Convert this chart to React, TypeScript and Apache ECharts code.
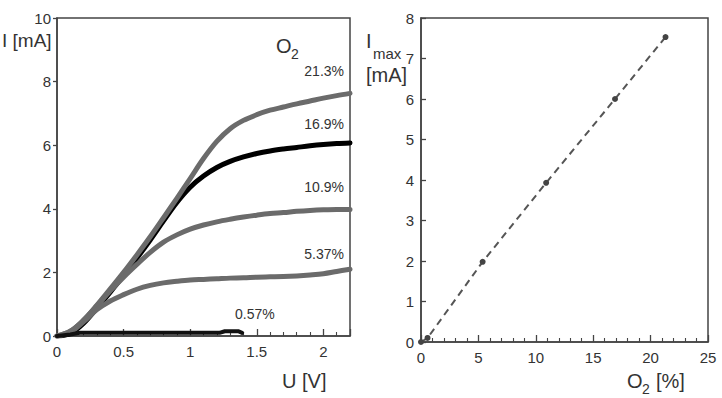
import React, { useEffect, useRef } from "react";
import * as echarts from "echarts";

// Left panel: I–U curves for different O2 concentrations
const voltage = [0, 0.1, 0.2, 0.3, 0.4, 0.5, 0.6, 0.7, 0.8, 0.9, 1.0, 1.1, 1.2, 1.3, 1.4, 1.5, 1.6, 1.7, 1.8, 1.9, 2.0, 2.1, 2.2];
const current213 = [0, 0.15, 0.5, 0.97, 1.48, 2.0, 2.55, 3.12, 3.72, 4.33, 4.95, 5.58, 6.12, 6.52, 6.78, 6.96, 7.1, 7.2, 7.3, 7.39, 7.48, 7.56, 7.63];
const current169 = [0, 0.08, 0.4, 0.88, 1.38, 1.9, 2.45, 3.02, 3.62, 4.2, 4.68, 5.03, 5.3, 5.49, 5.63, 5.74, 5.82, 5.88, 5.93, 5.98, 6.02, 6.05, 6.07];
const current109 = [0, 0.15, 0.5, 0.95, 1.42, 1.85, 2.25, 2.63, 2.95, 3.18, 3.36, 3.49, 3.59, 3.67, 3.74, 3.8, 3.85, 3.88, 3.92, 3.95, 3.97, 3.98, 3.98];
const current537 = [0, 0.12, 0.45, 0.83, 1.1, 1.3, 1.47, 1.59, 1.67, 1.72, 1.76, 1.78, 1.8, 1.82, 1.83, 1.85, 1.86, 1.87, 1.89, 1.92, 1.96, 2.03, 2.1];
const voltage057 = [0, 0.1, 0.17, 0.4, 0.7, 1.0, 1.22, 1.26, 1.36, 1.39];
const current057 = [0, 0.05, 0.1, 0.1, 0.1, 0.1, 0.1, 0.15, 0.15, 0.1];

// Right panel: Imax vs O2 concentration
const o2Percent = [0, 0.57, 5.37, 10.9, 16.9, 21.3];
const iMax = [0, 0.1, 1.98, 3.93, 6.0, 7.53];

// Curve labels
const curveLabels = ["21.3%", "16.9%", "10.9%", "5.37%", "0.57%"];

const pair = (xs: number[], ys: number[]) => xs.map((x, i) => [x, ys[i]]);

const FONT = "'Liberation Sans', Arial, sans-serif";
const AXIS_COLOR = "#444";
const LABEL_COLOR = "#333";

function axisBase(extra: any) {
  return {
    type: "value",
    axisLine: { show: true, onZero: false, lineStyle: { color: AXIS_COLOR, width: 1.5 } },
    splitLine: { show: false },
    axisLabel: { fontSize: 15, color: LABEL_COLOR, fontFamily: FONT },
    ...extra,
  };
}

export default function App() {
  const ref = useRef<HTMLDivElement>(null);

  useEffect(() => {
    if (!ref.current) return;
    const chart = echarts.init(ref.current, undefined, { renderer: "svg" });

    const gray = "#6b6b6b";
    const lineSeries = (name: string, data: number[][], color: string, width: number, z: number) => ({
      name,
      type: "line",
      xAxisIndex: 0,
      yAxisIndex: 0,
      data,
      showSymbol: false,
      symbol: "none",
      smooth: 0.35,
      z,
      lineStyle: { color, width, cap: "round", join: "round" },
    });

    const xMajor = { show: true, inside: true, length: 7, lineStyle: { color: AXIS_COLOR, width: 1.3 } };
    const xMinor = { show: true, splitNumber: 5, length: 4, lineStyle: { color: AXIS_COLOR, width: 1.1 } };

    const option: any = {
      animation: false,
      backgroundColor: "#fff",
      grid: [
        { left: 57, top: 18, width: 293, height: 318, show: true, borderColor: AXIS_COLOR, borderWidth: 1.5, backgroundColor: "transparent" },
        { left: 421, top: 18, width: 287, height: 324, show: true, borderColor: AXIS_COLOR, borderWidth: 1.5, backgroundColor: "transparent" },
      ],
      xAxis: [
        axisBase({
          gridIndex: 0,
          position: "bottom",
          min: 0,
          max: 2.2,
          interval: 0.5,
          axisTick: xMajor,
          minorTick: xMinor,
          axisLabel: {
            fontSize: 15,
            color: LABEL_COLOR,
            fontFamily: FONT,
            margin: 8,
            showMaxLabel: false,
            formatter: (v: number) => String(v),
          },
        }),
        axisBase({
          gridIndex: 1,
          position: "bottom",
          min: 0,
          max: 25,
          interval: 5,
          axisTick: xMajor,
          minorTick: xMinor,
          axisLabel: { fontSize: 15, color: LABEL_COLOR, fontFamily: FONT, margin: 8 },
        }),
      ],
      yAxis: [
        axisBase({
          gridIndex: 0,
          position: "left",
          min: 0,
          max: 10,
          interval: 2,
          axisTick: { show: true, inside: false, length: 4, lineStyle: { color: AXIS_COLOR, width: 1.3 } },
          axisLabel: { fontSize: 15, color: LABEL_COLOR, fontFamily: FONT, margin: 6 },
        }),
        axisBase({
          gridIndex: 1,
          position: "left",
          min: 0,
          max: 8,
          interval: 1,
          axisTick: { show: true, inside: true, length: 5, lineStyle: { color: AXIS_COLOR, width: 1.3 } },
          axisLabel: { fontSize: 15, color: LABEL_COLOR, fontFamily: FONT, margin: 7 },
        }),
      ],
      series: [
        lineSeries("16.9%", pair(voltage, current169), "#000", 5, 2),
        lineSeries("21.3%", pair(voltage, current213), gray, 5, 3),
        lineSeries("10.9%", pair(voltage, current109), gray, 5, 4),
        lineSeries("5.37%", pair(voltage, current537), gray, 5, 5),
        {
          ...lineSeries("0.57%", pair(voltage057, current057), "#111", 4, 6),
          smooth: false,
        },
        {
          name: "Imax",
          type: "line",
          xAxisIndex: 1,
          yAxisIndex: 1,
          data: pair(o2Percent, iMax),
          symbol: "circle",
          symbolSize: 6,
          itemStyle: { color: "#444" },
          lineStyle: { color: "#555", width: 2, type: [7, 5] },
          z: 5,
        },
      ],
      graphic: [
        { type: "text", left: 2, top: 31, style: { text: "I [mA]", font: `19px ${FONT}`, fill: LABEL_COLOR } },
        { type: "text", left: 276, top: 36, style: { text: "O", font: `20px ${FONT}`, fill: LABEL_COLOR } },
        { type: "text", left: 291, top: 47, style: { text: "2", font: `14px ${FONT}`, fill: LABEL_COLOR } },
        { type: "text", right: 722 - 344, top: 64, style: { text: curveLabels[0], font: `14px ${FONT}`, fill: LABEL_COLOR } },
        { type: "text", right: 722 - 344, top: 117, style: { text: curveLabels[1], font: `14px ${FONT}`, fill: LABEL_COLOR } },
        { type: "text", right: 722 - 344, top: 180, style: { text: curveLabels[2], font: `14px ${FONT}`, fill: LABEL_COLOR } },
        { type: "text", right: 722 - 344, top: 247, style: { text: curveLabels[3], font: `14px ${FONT}`, fill: LABEL_COLOR } },
        { type: "text", left: 235, top: 307, style: { text: curveLabels[4], font: `14px ${FONT}`, fill: LABEL_COLOR } },
        { type: "text", left: 282, top: 371, style: { text: "U [V]", font: `20px ${FONT}`, fill: LABEL_COLOR } },
        { type: "text", left: 366, top: 31, style: { text: "I", font: `20px ${FONT}`, fill: LABEL_COLOR } },
        { type: "text", left: 373, top: 46, style: { text: "max", font: `15px ${FONT}`, fill: LABEL_COLOR } },
        { type: "text", left: 366, top: 65, style: { text: "[mA]", font: `20px ${FONT}`, fill: LABEL_COLOR } },
        { type: "text", left: 627, top: 371, style: { text: "O", font: `20px ${FONT}`, fill: LABEL_COLOR } },
        { type: "text", left: 642, top: 382, style: { text: "2", font: `14px ${FONT}`, fill: LABEL_COLOR } },
        { type: "text", left: 656, top: 371, style: { text: "[%]", font: `20px ${FONT}`, fill: LABEL_COLOR } },
      ],
    };

    chart.setOption(option);
    return () => chart.dispose();
  }, []);

  return (
    <div
      ref={ref}
      style={{ position: "fixed", left: 0, top: 0, width: 722, height: 398, background: "#fff" }}
    />
  );
}
